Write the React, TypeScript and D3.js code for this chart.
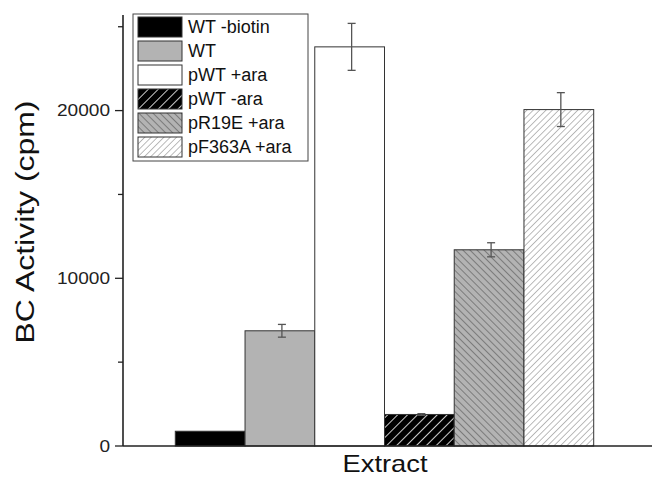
import React from "react";
import * as d3 from "d3";

const categories = ["WT -biotin", "WT", "pWT +ara", "pWT -ara", "pR19E +ara", "pF363A +ara"];
const values = [880, 6870, 23800, 1880, 11700, 20060];
const errors = [0, 380, 1400, 50, 420, 1010];
const majorTicks = [0, 10000, 20000];
const minorTicks = [5000, 15000, 25000];

const fills = ["#000000", "#b3b3b3", "#ffffff", "url(#hatchBlack)", "url(#hatchGray)", "url(#hatchWhite)"];

const W = 652;
const H = 478;
const left = 123;
const right = 646;
const bottom = 446;
const top = 15;

export default function App() {
  const x = d3.scaleBand<string>().domain(categories).range([left, right]).paddingInner(0).paddingOuter(0.75);
  const y = d3.scaleLinear().domain([0, 25700]).range([bottom, top]);
  const font = "Arial, 'Liberation Sans', sans-serif";

  return (
    <svg width={W} height={H} style={{ position: "absolute", left: 0, top: 0, background: "#fff" }}>
      <defs>
        <pattern id="hatchBlack" patternUnits="userSpaceOnUse" width="7" height="7" patternTransform="rotate(45)">
          <rect width="7" height="7" fill="#000" />
          <line x1="0" y1="0" x2="0" y2="7" stroke="#fff" strokeWidth="1.6" />
        </pattern>
        <pattern id="hatchGray" patternUnits="userSpaceOnUse" width="5" height="5" patternTransform="rotate(-45)">
          <rect width="5" height="5" fill="#b3b3b3" />
          <line x1="0" y1="0" x2="0" y2="5" stroke="#444" strokeWidth="1" />
        </pattern>
        <pattern id="hatchWhite" patternUnits="userSpaceOnUse" width="4.5" height="4.5" patternTransform="rotate(45)">
          <rect width="4.5" height="4.5" fill="#fff" />
          <line x1="0" y1="0" x2="0" y2="4.5" stroke="#777" strokeWidth="1" />
        </pattern>
      </defs>

      {/* bars */}
      {categories.map((c, i) => (
        <rect
          key={c}
          x={x(c)!}
          y={y(values[i])}
          width={x.bandwidth()}
          height={bottom - y(values[i])}
          fill={fills[i]}
          stroke="#333"
          strokeWidth={1}
        />
      ))}

      {/* error bars */}
      {categories.map((c, i) => {
        if (!errors[i]) return null;
        const cx = x(c)! + x.bandwidth() / 2 + 2;
        const y1 = y(values[i] + errors[i]);
        const y2 = y(values[i] - errors[i]);
        return (
          <g key={c} stroke="#555" strokeWidth={1.3}>
            <line x1={cx} x2={cx} y1={y1} y2={y2} />
            <line x1={cx - 4} x2={cx + 4} y1={y1} y2={y1} />
            <line x1={cx - 4} x2={cx + 4} y1={y2} y2={y2} />
          </g>
        );
      })}

      {/* axes */}
      <line x1={left} x2={left} y1={top} y2={bottom} stroke="#222" strokeWidth={1.6} />
      <line x1={left} x2={W} y1={bottom} y2={bottom} stroke="#222" strokeWidth={1.6} />
      {majorTicks.map((t) => (
        <g key={t}>
          <line x1={left - 8} x2={left} y1={y(t)} y2={y(t)} stroke="#222" strokeWidth={1.3} />
          <text
            x={left - 13}
            y={y(t)}
            dy="0.35em"
            textAnchor="end"
            fontFamily={font}
            fontSize={16}
            fill="#222"
            textLength={String(t).length * 10.6}
            lengthAdjust="spacingAndGlyphs"
          >
            {t}
          </text>
        </g>
      ))}
      {minorTicks.map((t) => (
        <line key={t} x1={left - 5} x2={left} y1={y(t)} y2={y(t)} stroke="#222" strokeWidth={1.3} />
      ))}

      <text
        transform={`translate(34,222) rotate(-90)`}
        textAnchor="middle"
        fontFamily={font}
        fontSize={25}
        fill="#111"
        textLength={243}
        lengthAdjust="spacingAndGlyphs"
      >
        BC Activity (cpm)
      </text>
      <text
        x={385}
        y={472}
        textAnchor="middle"
        fontFamily={font}
        fontSize={24}
        fill="#111"
        textLength={85}
        lengthAdjust="spacingAndGlyphs"
      >
        Extract
      </text>

      {/* legend */}
      <rect x={133} y={14} width={175} height={147} fill="#fff" stroke="#444" strokeWidth={1} />
      {categories.map((c, i) => (
        <g key={c} transform={`translate(138,${17 + i * 24})`}>
          <rect width={44} height={20} fill={fills[i]} stroke="#333" strokeWidth={1} />
          <text x={50} y={10} dy="0.36em" fontFamily={font} fontSize={18} fill="#111">
            {c}
          </text>
        </g>
      ))}
    </svg>
  );
}
